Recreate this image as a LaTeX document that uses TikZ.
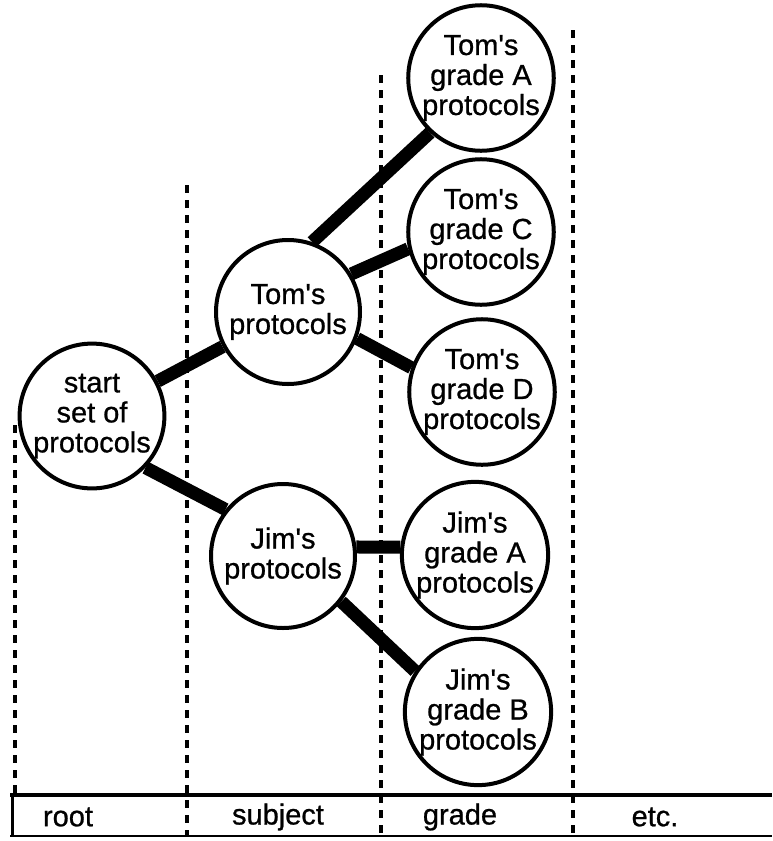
\documentclass[tikz,border=0pt]{standalone}
\usepackage{fontspec}
\setmainfont{Liberation Sans}[FakeBold=0.8]
\newcommand{\ap}{\textquotesingle}
\tikzset{
  set/.style={draw,circle,fill=white,line width=4pt,minimum size=144pt,inner sep=0pt,align=center,font=\fontsize{29}{30}\selectfont},
  bar/.style={line width=13pt},
  level/.style={line width=3.5pt,dash pattern=on 8pt off 7pt},
  axislabel/.style={font=\fontsize{29}{30}\selectfont}
}
\begin{document}
\begin{tikzpicture}[x=1pt,y=-1pt]
		\useasboundingbox (0,0) rectangle (772,841);
		% draw level boundaries
		\draw[level] (15,425) -- (15,795);
		\draw[level] (187,185) -- (187,836);
		\draw[level] (381,75) -- (381,836);
		\draw[level] (573,30) -- (573,836);

		% draw tree of protocol sets
		\node[set] (0) at (92,416) {start\\set of\\protocols};
		\node[set] (1) at (288,312) {Tom\ap s\\protocols};
		\node[set] (2) at (283,556) {Jim\ap s\\protocols};
		\node[set] (11) at (481,78) {Tom\ap s\\grade A\\protocols};
		\node[set] (12) at (481,232) {Tom\ap s\\grade C\\protocols};
		\node[set] (13) at (482,392) {Tom\ap s\\grade D\\protocols};
		\node[set] (21) at (475,555) {Jim\ap s\\grade A\\protocols};
		\node[set] (22) at (478,712) {Jim\ap s\\grade B\\protocols};
		\draw[bar] (0) -- (1);
		\draw[bar] (0.-44) -- (2.141);
		\draw[bar] (1.71) -- (11.227);
		\draw[bar] (1.31) -- (12.193);
		\draw[bar] (1.-21) -- (13.161);
		\draw[bar] (2.7) -- (21.174);
		\draw[bar] (2.-38) -- (22.147);

		% draw level axis
		\draw[line width=4pt] (10,795) -- (772,795);
		\draw[line width=2pt] (10,836) -- (772,836);
		\draw[line width=3pt] (12,795) -- (12,836);
		\node[axislabel] (r) at (68,817) {root};
		\node[axislabel] (s) at (278,817) {subject};
		\node[axislabel] (g) at (460,817) {grade};
		\node[axislabel] (e) at (655,817) {etc.};
	\end{tikzpicture}
\end{document}
